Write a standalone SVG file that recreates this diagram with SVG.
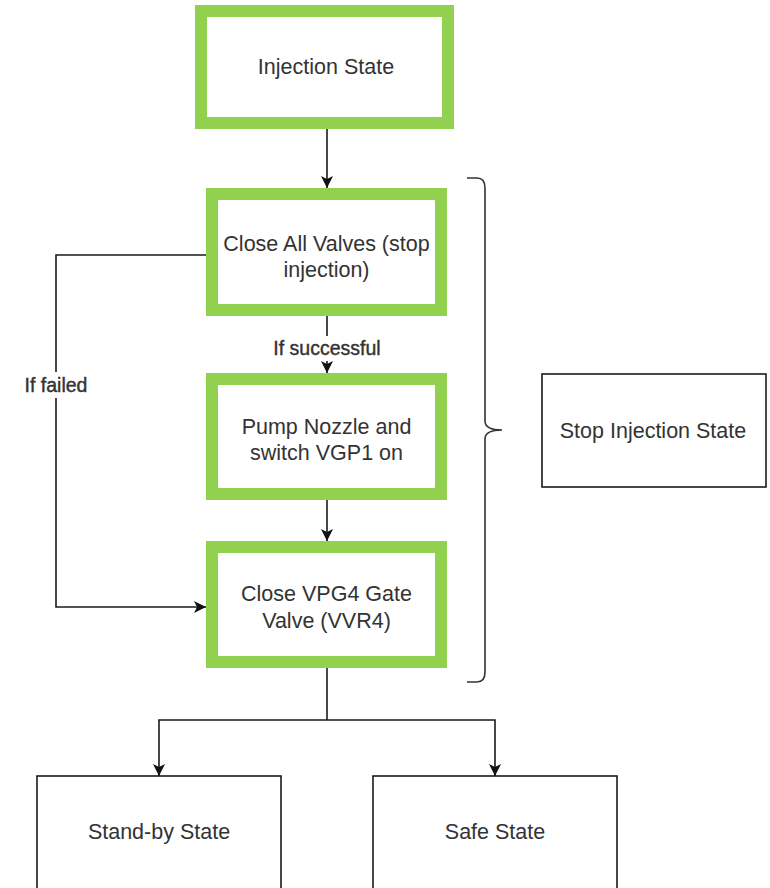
<svg xmlns="http://www.w3.org/2000/svg" width="770" height="888" viewBox="0 0 770 888">
  <defs>
    <style>
      .step { fill: #ffffff; stroke: #92d050; stroke-width: 12; }
      .plain { fill: #ffffff; stroke: #1a1a1a; stroke-width: 1.6; }
      .label { font-family: "Liberation Sans", Arial, sans-serif; font-size: 21.5px; fill: #333333; text-anchor: middle; }
      .edge-label { font-family: "Liberation Sans", Arial, sans-serif; font-size: 19.5px; fill: #333333; stroke: #333333; stroke-width: 0.4; text-anchor: middle; }
      .wire { fill: none; stroke: #1a1a1a; stroke-width: 1.6; }
      .brace { fill: none; stroke: #333333; stroke-width: 1.6; }
    </style>
    <marker id="arrow" markerUnits="userSpaceOnUse" markerWidth="14" markerHeight="14" viewBox="0 0 14 14" refX="13" refY="7" orient="auto">
      <path d="M1,1 L13,7 L1,13 L4,7 Z" fill="#111111"/>
    </marker>
  </defs>
  <rect width="770" height="888" fill="#ffffff"/>

  <!-- connectors -->
  <g id="connectors">
    <path class="wire" d="M327,129 L327,188" marker-end="url(#arrow)"/>
    <path class="wire" d="M327,316 L327,373" marker-end="url(#arrow)"/>
    <path class="wire" d="M327,500 L327,541" marker-end="url(#arrow)"/>
    <path class="wire" d="M206,255 L56,255 L56,607 L206,607" marker-end="url(#arrow)"/>
    <path class="wire" d="M327,668 L327,720"/>
    <path class="wire" d="M327,720 L159,720 L159,776" marker-end="url(#arrow)"/>
    <path class="wire" d="M327,720 L495,720 L495,776" marker-end="url(#arrow)"/>
    <!-- edge labels with white backing -->
    <rect x="266" y="336" width="122" height="25" fill="#ffffff"/>
    <text class="edge-label" x="327" y="355">If successful</text>
    <rect x="20" y="372" width="72" height="26" fill="#ffffff"/>
    <text class="edge-label" x="56" y="392">If failed</text>
  </g>

  <g id="injection-state">
    <rect class="step" x="201" y="11" width="247" height="112"/>
    <text class="label" x="326" y="73.5">Injection State</text>
  </g>

  <g id="close-all-valves">
    <rect class="step" x="212" y="194" width="229" height="116"/>
    <text class="label" x="326.5" y="250.5">Close All Valves (stop</text>
    <text class="label" x="326.5" y="276.5">injection)</text>
  </g>

  <g id="pump-nozzle">
    <rect class="step" x="212" y="379" width="229" height="115"/>
    <text class="label" x="326.5" y="433.5">Pump Nozzle and</text>
    <text class="label" x="326.5" y="459.5">switch VGP1 on</text>
  </g>

  <g id="close-vpg4">
    <rect class="step" x="212" y="547" width="229" height="115"/>
    <text class="label" x="326.5" y="600.5">Close VPG4 Gate</text>
    <text class="label" x="326.5" y="627.5">Valve (VVR4)</text>
  </g>

  <!-- curly bracket grouping the stop-injection steps -->
  <g id="stop-injection-brace">
    <path class="brace" d="M467,178 L477,178 Q485,178 485,188 L485,421 Q485,430 502,430 Q485,430 485,439 L485,672 Q485,682 477,682 L467,682"/>
  </g>

  <g id="stop-injection-state">
    <rect class="plain" x="542" y="374" width="224" height="113"/>
    <text class="label" x="653" y="437.5">Stop Injection State</text>
  </g>

  <g id="standby-state">
    <rect class="plain" x="37" y="776" width="244" height="120"/>
    <text class="label" x="159" y="838.5">Stand-by State</text>
  </g>

  <g id="safe-state">
    <rect class="plain" x="373" y="776" width="244" height="120"/>
    <text class="label" x="495" y="838.5">Safe State</text>
  </g>
</svg>
